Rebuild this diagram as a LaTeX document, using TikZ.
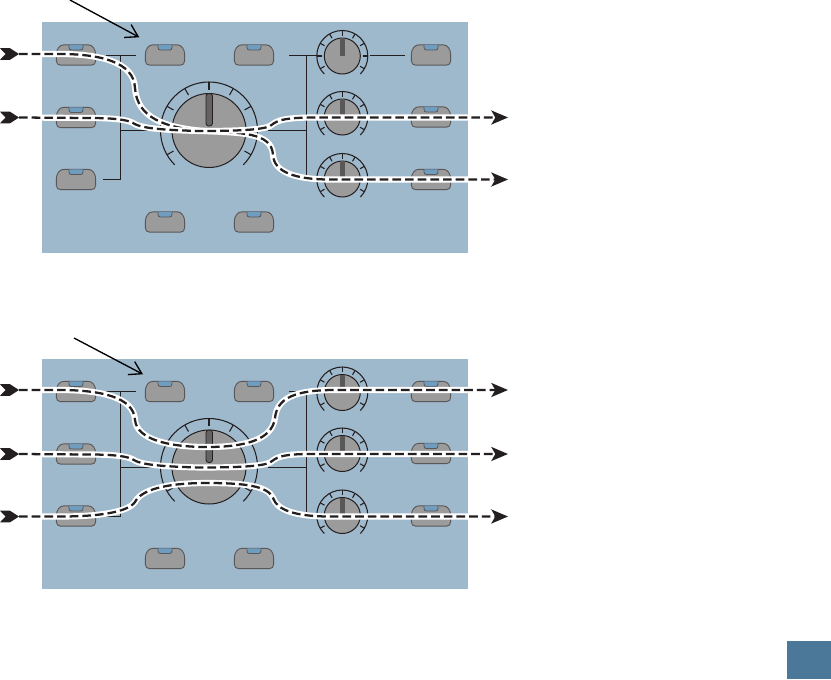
\documentclass[tikz,border=0pt]{standalone}
\usetikzlibrary{arrows.meta,calc}
\definecolor{panelblue}{HTML}{9EB8CC}
\definecolor{tabblue}{HTML}{6F9DBF}
\definecolor{knobgray}{HTML}{9B9B9B}
\definecolor{cornerblue}{HTML}{4B7798}
\definecolor{inkdark}{HTML}{231F20}
\tikzset{
  panelbtn/.pic={
    \draw[fill=knobgray, draw=inkdark!75, line width=0.7pt] (-12,-10.2) -- (12,-10.2) .. controls (16.5,-10.2) and (19.7,-6) .. (19.7,0) -- (19.7,5.5) .. controls (19.7,8.5) and (18,10.2) .. (15.2,10.2) -- (-15.2,10.2) .. controls (-18,10.2) and (-19.7,8.5) .. (-19.7,5.5) -- (-19.7,0) .. controls (-19.7,-6) and (-16.5,-10.2) .. (-12,-10.2) -- cycle;
    \draw[fill=tabblue, draw=inkdark!75, line width=0.6pt] (-7,-10.2) -- (-7,-7.5) .. controls (-7,-5.8) and (-6,-5) .. (-4.5,-5) -- (4.5,-5) .. controls (6,-5) and (7,-5.8) .. (7,-7.5) -- (7,-10.2);
    \node[minimum width=29.5pt, minimum height=15.3pt, inner sep=0pt] (-c) at (0,0) {};
  },
  fletch/.pic={
    \fill[inkdark] (-19,-5.8) -- (-9,-5.8) -- (0,0) -- (-9,5.8) -- (-19,5.8) -- (-13.5,0) -- cycle;
  },
  wire/.style={draw=inkdark, line width=0.75pt},
  dialring/.style={draw=inkdark, line width=0.8pt},
  knob/.style={circle, draw=inkdark, fill=knobgray, line width=0.75pt, inner sep=0pt},
  casing/.style={draw=white, line width=4.6pt},
  signal/.style={draw=inkdark, line width=1.7pt, dash pattern=on 6.5pt off 3pt},
  tips/.style={-{Stealth[length=12.5pt,width=10.5pt,inset=3pt]}},
  callout/.style={-{Straight Barb[length=9pt,width=11pt]}, draw=black, line width=1pt}
}
\newcommand{\cable}[1]{
  \draw[casing] #1;
  \draw[signal, tips] #1;
}
\begin{document}
\begin{tikzpicture}[x=0.75pt, y=-0.75pt]
  \useasboundingbox (0,0) rectangle (831,679);

  % both panels
  \foreach \p/\dy in {A/0, B/336.5} {
    \node[fill=panelblue, minimum width=319.5pt, minimum height=173pt, inner sep=0pt, anchor=north west] (panel\p) at (42,{22+\dy}) {};

    \coordinate (lefttop\p) at (105.5,{55+\dy});
    \coordinate (leftend\p) at (136,{55+\dy});
    \coordinate (leftjoin\p) at (120.5,{55+\dy});
    \coordinate (leftbot\p) at (103,{179.5+\dy});
    \coordinate (leftmid\p) at (120.5,{130.5+\dy});
    \coordinate (leftring\p) at (160,{130.5+\dy});
    \coordinate (righttop\p) at (289,{55+\dy});
    \coordinate (rightend\p) at (318,{55+\dy});
    \coordinate (rightjoin\p) at (306.7,{55+\dy});
    \coordinate (rightbot\p) at (306.7,{176+\dy});
    \coordinate (rightmid\p) at (306.7,{130.5+\dy});
    \coordinate (rightring\p) at (268,{130.5+\dy});
    \draw[wire] (lefttop\p) -- (leftend\p);
    \draw[wire] (leftjoin\p) |- (leftbot\p);
    \draw[wire] (leftmid\p) -- (leftring\p);
    \draw[wire] (righttop\p) -- (rightend\p);
    \draw[wire] (rightjoin\p) -- (rightbot\p);
    \draw[wire] (rightring\p) -- (rightmid\p);

    \foreach \b/\bx/\by in {a/76/55, b/76/117.5, c/76/179.5, d/165/55, e/254/55, f/165/222, g/254/222, h/431/55, i/431/117, j/431/179.5}
      \pic (btn\p\b) at (\bx,{\by+\dy}) {panelbtn};

    % big dial
    \draw[dialring] (209,{130.5+\dy}) ++(135:48.5) arc[start angle=135, end angle=405, radius=48.5];
    \foreach \a in {150,180,...,390}
      \draw[dialring] ($(209,{130.5+\dy})+(\a:41)$) -- ($(209,{130.5+\dy})+(\a:48.5)$);
    \node[knob, minimum size=55.5pt] (bigknob\p) at (209,{130.5+\dy}) {};
    \draw[draw=inkdark, fill=inkdark!70, line width=0.6pt, rounded corners=2pt] (206,{93.5+\dy}) rectangle (212.5,{126+\dy});

    % small dials
    \foreach \k/\ky in {1/56, 2/117, 3/179} {
      \draw[dialring] (342.3,{\ky+\dy}) ++(135:25.5) arc[start angle=135, end angle=405, radius=25.5];
      \foreach \a in {150,180,...,390}
        \draw[dialring] ($(342.3,{\ky+\dy})+(\a:20.5)$) -- ($(342.3,{\ky+\dy})+(\a:25.5)$);
      \node[knob, minimum size=27pt] (knob\p\k) at (342.3,{\ky+\dy}) {};
      \fill[inkdark!75] (340.2,{\ky-18+\dy}) rectangle (344.6,{\ky+\dy});
      \coordinate (knobout\p\k) at (370,{\ky-1+\dy});
      \coordinate (btnin\p\k) at (405,{\ky-1+\dy});
      \draw[wire] (knobout\p\k) -- (btnin\p\k);
    }
  }

  % upper panel cables
  \coordinate (inA1) at (19,54);
  \coordinate (inA2) at (19,117.5);
  \coordinate (outA1) at (508,117.5);
  \coordinate (outA2) at (508,179.5);
  \cable{(inA1) -- (60,54) .. controls (100,54) and (134,62) .. (135,88) .. controls (137,118) and (165,128) .. (205,131) .. controls (240,133) and (272,132) .. (273,155) .. controls (274,172) and (295,179.5) .. (330,179.5) -- (outA2)}
  \cable{(inA2) -- (90,118) .. controls (115,118) and (128,120) .. (133,123) .. controls (140,128) and (160,130) .. (200,131) .. controls (235,131) and (262,130) .. (270,126) .. controls (276,122) and (278,118) .. (310,117.5) -- (outA1)}

  % lower panel cables
  \coordinate (inB1) at (19,390);
  \coordinate (inB2) at (19,454);
  \coordinate (inB3) at (19,516.5);
  \coordinate (outB1) at (508,390);
  \coordinate (outB2) at (508,454);
  \coordinate (outB3) at (508,516.5);
  \cable{(inB1) -- (60,390) .. controls (100,390) and (134,397) .. (135,420) .. controls (137,440) and (170,447) .. (207,447) .. controls (245,447) and (272,440) .. (275,418) .. controls (277,398) and (295,390) .. (335,390) -- (outB1)}
  \cable{(inB2) -- (90,454.5) .. controls (115,454.5) and (128,456.5) .. (133,459.5) .. controls (140,464.5) and (160,466.5) .. (200,467.5) .. controls (235,467.5) and (262,466.5) .. (270,462.5) .. controls (276,458.5) and (278,454) .. (310,454) -- (outB2)}
  \cable{(inB3) -- (60,516.5) .. controls (100,516.5) and (128,512) .. (135,502) .. controls (141,490) and (165,483) .. (207,483) .. controls (245,483) and (268,486) .. (273,498) .. controls (277,510) and (295,516.5) .. (330,516.5) -- (outB3)}

  \foreach \t in {inA1,inA2,inB1,inB2,inB3}
    \pic at (\t) {fletch};

  % callout arrows
  \coordinate (noteA) at (70,0);
  \coordinate (noteB) at (74,338);
  \coordinate (noteAend) at (139.3,37.3);
  \coordinate (noteBend) at (143,374.3);
  \draw[callout] (noteA) -- (noteAend);
  \draw[callout] (noteB) -- (noteBend);

  \node[fill=cornerblue, minimum width=33pt, minimum height=28.5pt, inner sep=0pt, anchor=south east] (cornertab) at (831,679) {};
\end{tikzpicture}
\end{document}
